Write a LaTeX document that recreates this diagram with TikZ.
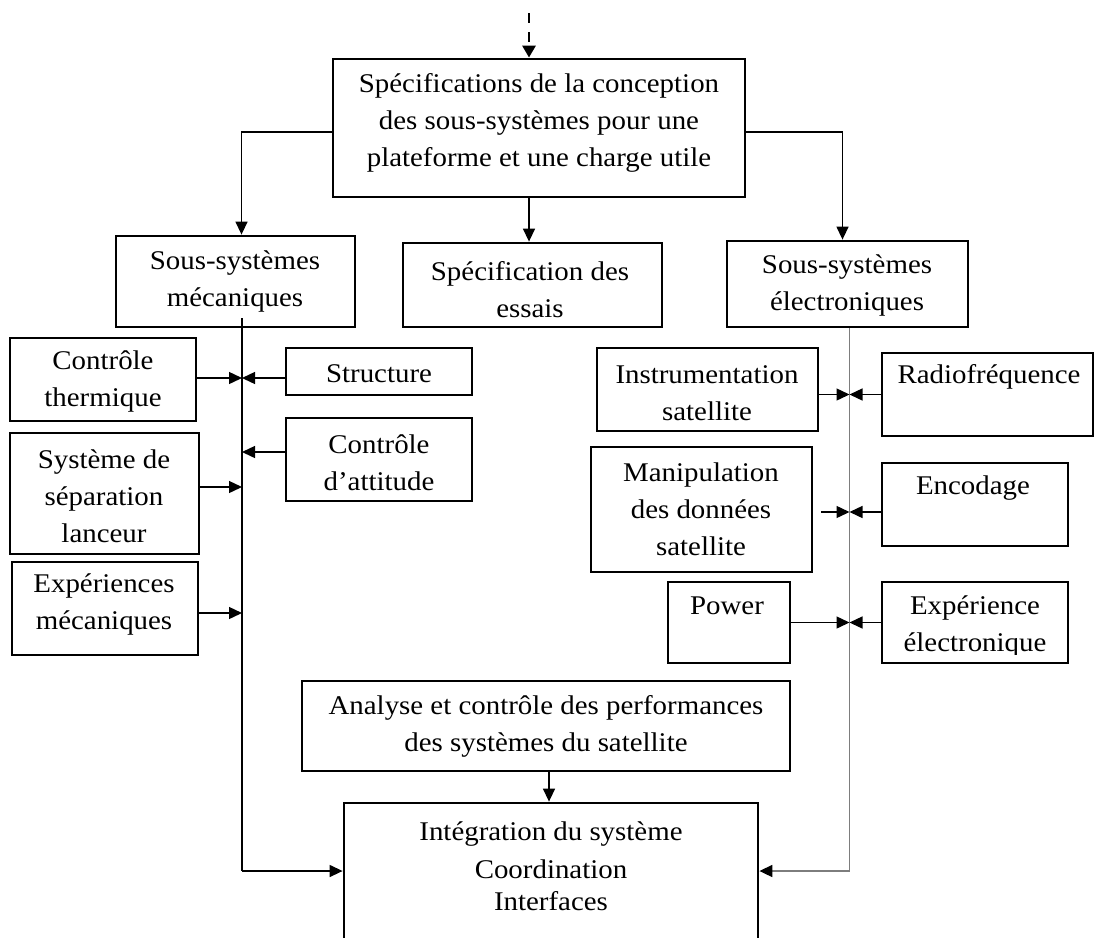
\documentclass[tikz,border=0pt]{standalone}
\usepackage{fontspec}
\setmainfont[FakeStretch=1.07]{Liberation Serif}
\usetikzlibrary{arrows.meta}
\definecolor{busgray}{RGB}{125,125,125}
% box from its corners (x1,y1) to (x2,y2), y counted downwards
\newcommand\placebox[5]{%
  \node[box, minimum width={(#4-#2)*1pt}, minimum height={(#5-#3)*1pt}]
    (#1) at ({(#2+#4)/2},{(#3+#5)/2}) {};}
\begin{document}
\begin{tikzpicture}[x=1pt,y=-1pt,
  box/.style={draw, line width=2.8pt, inner sep=0pt},
  txt/.style={align=center, inner sep=0pt, font=\fontsize{27}{37}\selectfont},
  tip/.style={-{Triangle[length=13pt,width=12pt,color=black]}},
  link/.style={line width=1.4pt, tip},
  bus/.style={line width=1.4pt},
  graybus/.style={line width=1.7pt, draw=busgray},
]
\useasboundingbox (0,0) rectangle (1094,937);
\clip (0,0) rectangle (1094,937);

% ---------- boxes ----------
\placebox{top}{333}{59}{745}{197}
\placebox{mech}{116}{236}{355}{327}
\placebox{essais}{403}{243}{662}{327}
\placebox{elec}{727}{241}{968}{327}
\placebox{therm}{10}{338}{196}{421}
\placebox{struct}{286}{348}{472}{395}
\placebox{sep}{10}{433}{199}{554}
\placebox{att}{286}{418}{472}{501}
\placebox{expmec}{12}{562}{198}{655}
\placebox{instr}{597}{348}{818}{431}
\placebox{radio}{882}{353}{1093}{436}
\placebox{manip}{591}{447}{812}{572}
\placebox{enc}{882}{463}{1068}{546}
\placebox{power}{668}{582}{790}{663}
\placebox{expel}{882}{582}{1068}{663}
\placebox{analyse}{302}{681}{790}{771}
\placebox{integ}{344}{803}{758}{960}

% ---------- texts ----------
\node[txt] (top-t) at (539,123) {Spécifications de la conception\\des sous-systèmes pour une\\plateforme et une charge utile};
\node[txt] (mech-t) at (235,281) {Sous-systèmes\\mécaniques};
\node[txt] (essais-t) at (530,290) {Spécification des\\essais};
\node[txt] (elec-t) at (847,285) {Sous-systèmes\\électroniques};
\begin{scope}
  \clip (therm.north west) rectangle ([yshift=9pt]therm.south east);
  \node[txt] (therm-t) at (103,381) {Contrôle\\thermique};
\end{scope}
\node[txt] (struct-t) at (379,374) {Structure};
\node[txt] (sep-t) at (104,496) {Système de\\séparation\\lanceur};
\node[txt] (att-t) at (379,463) {Contrôle\\d’attitude};
\node[txt] (expmec-t) at (104,604) {Expériences\\mécaniques};
\node[txt] (instr-t) at (707,393) {Instrumentation\\satellite};
\node[txt] (radio-t) at (989,377) {Radiofréquence};
\node[txt] (manip-t) at (701,509) {Manipulation\\des données\\satellite};
\node[txt] (enc-t) at (973,488) {Encodage};
\node[txt] (power-t) at (727,606) {Power};
\begin{scope}
  \clip (expel.north west) rectangle ([yshift=10pt]expel.south east);
  \node[txt] (expel-t) at (975,626) {Expérience\\électronique};
\end{scope}
\node[txt] (analyse-t) at (546,726) {Analyse et contrôle des performances\\des systèmes du satellite};
\node[txt] (integ-t) at (551,866) {Intégration du système\\[1pt]Coordination\\[-5pt]Interfaces};

% ---------- incoming dashed feed ----------
\coordinate (feed) at (529,13);
\draw[line width=2.8pt, dash pattern=on 10pt off 9pt,
      -{Triangle[length=12pt,width=13pt]}] (feed) -- (feed |- top.north);

% ---------- distribution from the top box ----------
\draw[link] ([yshift=-4pt]top.west) -| ([xshift=6pt]mech.north);
\draw[link] ([yshift=-4pt]top.east) -| ([xshift=-5pt]elec.north);
\coordinate (essIn) at ([xshift=-3.5pt]essais.north);
\draw[link] (essIn |- top.south) -- (essIn);

% ---------- mechanical bus ----------
\coordinate (busL) at (242,318);
\coordinate (busLbot) at (242,871);
\draw[bus] (busL) -- (busLbot);
\draw[link] (busLbot) -- (busLbot -| integ.west);
\coordinate (thermOut) at ([yshift=1.5pt]therm.east);
\draw[link] (thermOut) -- (thermOut -| busL);
\draw[link] (struct.west |- thermOut) -- (thermOut -| busL);
\coordinate (sepOut) at ([yshift=6.5pt]sep.east);
\draw[link] (sepOut) -- (sepOut -| busL);
\coordinate (attOut) at ([yshift=7.5pt]att.west);
\draw[link] (attOut) -- (attOut -| busL);
\coordinate (expmecOut) at ([yshift=-4.5pt]expmec.east);
\draw[link] (expmecOut) -- (expmecOut -| busL);

% ---------- electronic bus ----------
\coordinate (busR) at ([xshift=2pt]elec.south);
\coordinate (busRbot) at (busR |- busLbot);
\draw[graybus] (busR) -- (busRbot);
\draw[graybus, tip] (busRbot) -- (busRbot -| integ.east);
\draw[link] (instr.east |- radio.west) -- (radio.west -| busR);
\draw[link] (radio.west) -- (radio.west -| busR);
\coordinate (manipOut) at ([xshift=8pt,yshift=-2.5pt]manip.east);
\draw[link] (manipOut) -- (manipOut -| busR);
\draw[link] (enc.west |- manipOut) -- (manipOut -| busR);
\draw[link] (power.east) -- (power.east -| busR);
\draw[link] (expel.west) -- (expel.west -| busR);

% ---------- performance analysis into integration ----------
\coordinate (anaOut) at ([xshift=3pt]analyse.south);
\draw[link] (anaOut) -- (anaOut |- integ.north);
\end{tikzpicture}
\end{document}
